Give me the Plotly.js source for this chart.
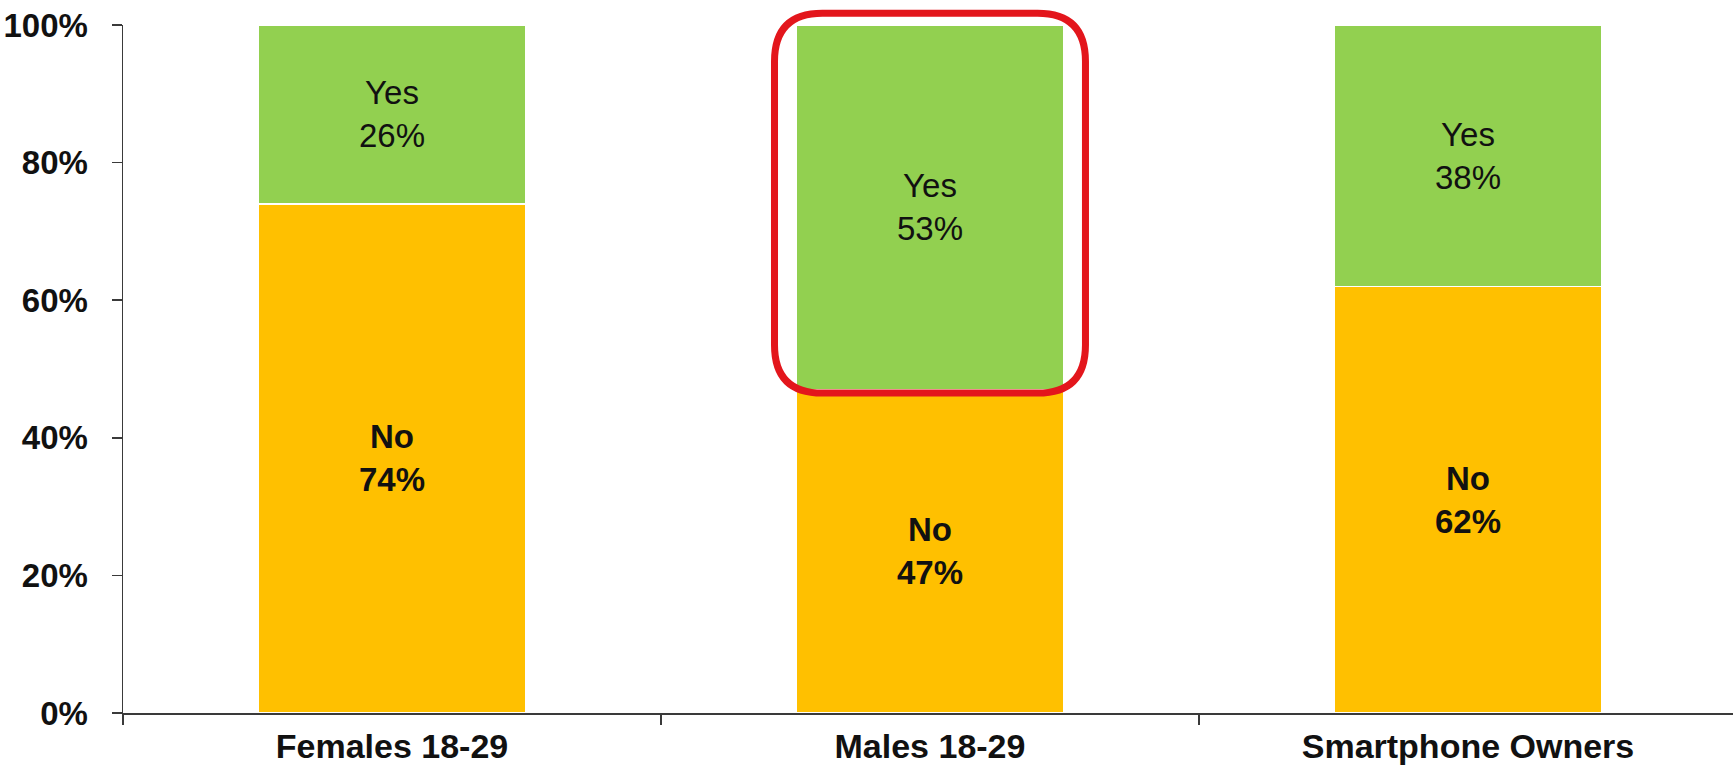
<!DOCTYPE html>
<html>
<head>
<meta charset="utf-8">
<script src="https://cdn.plot.ly/plotly-3.0.1.min.js"></script>
<style>
  html, body { margin: 0; padding: 0; background: #ffffff; }
  #chart { width: 1733px; height: 768px; }
</style>
</head>
<body>
<div id="chart"></div>
<script>
// Survey groups and the share answering No / Yes (percent)
const categories = ['Females 18-29', 'Males 18-29', 'Smartphone Owners'];
const noValues = [74, 47, 62];
const yesValues = [26, 53, 38];
const yTickValues = [0, 20, 40, 60, 80, 100];
const yTickLabels = ['0%', '20%', '40%', '60%', '80%', '100%'];
const highlightedGroup = 'Males 18-29';

const FONT = '"Liberation Sans", Arial, Helvetica, sans-serif';
const GREEN = '#92d050';
const ORANGE = '#ffc000';
const AXIS = '#3a3a3a';

const traceNo = {
  type: 'bar',
  name: 'No',
  x: categories,
  y: noValues,
  marker: { color: ORANGE, line: { color: '#ffffff', width: 1.5 } },
  texttemplate: 'No<br>%{y}%',
  textposition: 'inside',
  insidetextanchor: 'middle',
  constraintext: 'none',
  textangle: 0,
  textfont: { family: FONT, size: 33, color: '#111111', weight: 'bold' },
  hoverinfo: 'skip'
};

const traceYes = {
  type: 'bar',
  name: 'Yes',
  x: categories,
  y: yesValues,
  marker: { color: GREEN, line: { color: '#ffffff', width: 1.5 } },
  texttemplate: 'Yes<br>%{y}%',
  textposition: 'inside',
  insidetextanchor: 'middle',
  constraintext: 'none',
  textangle: 0,
  textfont: { family: FONT, size: 33, color: '#111111', weight: 'normal' },
  hoverinfo: 'skip'
};

// Rounded outline around the Yes segment of the highlighted group
const hi = categories.indexOf(highlightedGroup);
const halfW = 0.289, rx = 0.089, ry = 0.07;
const x0 = hi - halfW, x1 = hi + halfW;
const yTop = 1.017;
const yBot = (100 - yesValues[hi] - 0.5) / 100;
const outlinePath =
  `M ${x0 + rx},${yTop} L ${x1 - rx},${yTop} Q ${x1},${yTop} ${x1},${yTop - ry} ` +
  `L ${x1},${yBot + ry} Q ${x1},${yBot} ${x1 - rx},${yBot} ` +
  `L ${x0 + rx},${yBot} Q ${x0},${yBot} ${x0},${yBot + ry} ` +
  `L ${x0},${yTop - ry} Q ${x0},${yTop} ${x0 + rx},${yTop} Z`;

const layout = {
  width: 1733,
  height: 768,
  margin: { l: 123, r: 0, t: 25, b: 55 },
  paper_bgcolor: '#ffffff',
  plot_bgcolor: '#ffffff',
  barmode: 'stack',
  bargap: 0.504,
  showlegend: false,
  font: { family: FONT, color: '#111111' },
  xaxis: {
    type: 'category',
    range: [-0.5, 2.4926],
    showline: true,
    linecolor: AXIS,
    linewidth: 1.5,
    ticks: 'outside',
    tickson: 'boundaries',
    ticklen: 10,
    tickwidth: 1.5,
    tickcolor: AXIS,
    showgrid: false,
    zeroline: false,
    ticklabelstandoff: 3,
    tickfont: { family: FONT, size: 34, color: '#111111', weight: 'bold' }
  },
  yaxis: {
    range: [0, 100],
    tickvals: yTickValues,
    ticktext: yTickLabels,
    showline: true,
    linecolor: AXIS,
    linewidth: 1.5,
    ticks: 'outside',
    ticklen: 10,
    tickwidth: 1.5,
    tickcolor: AXIS,
    showgrid: false,
    zeroline: false,
    ticklabelstandoff: 17,
    tickfont: { family: FONT, size: 33, color: '#111111', weight: 'bold' }
  },
  shapes: [{
    type: 'path',
    xref: 'x',
    yref: 'paper',
    path: outlinePath,
    line: { color: '#e3161c', width: 7 },
    fillcolor: 'rgba(0,0,0,0)',
    layer: 'above'
  }]
};

Plotly.newPlot('chart', [traceNo, traceYes], layout, { displayModeBar: false, staticPlot: true });
</script>
</body>
</html>
